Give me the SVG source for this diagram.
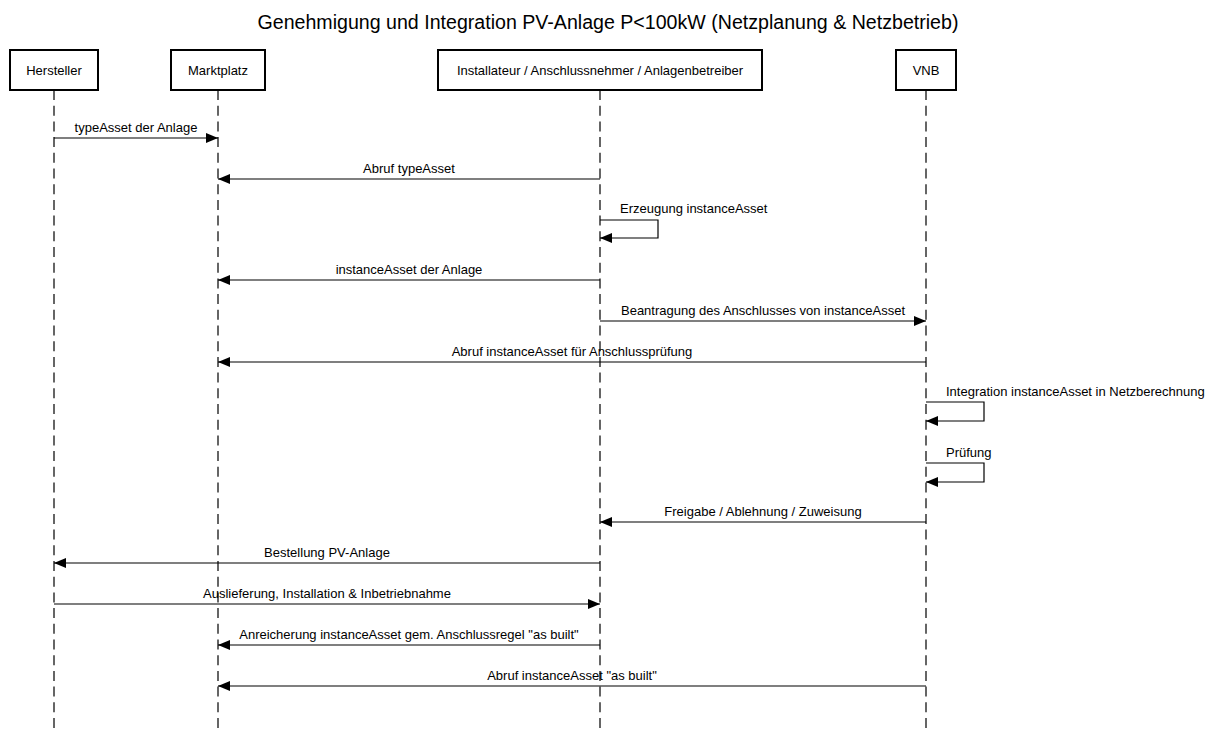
<svg xmlns="http://www.w3.org/2000/svg" width="1213" height="733" viewBox="0 0 1213 733">
  <style>
    text { font-family: "Liberation Sans", Arial, sans-serif; fill: #000; }
    .title { font-size: 19.6px; text-anchor: middle; }
    .actor rect { fill: #fff; stroke: #000; stroke-width: 2; }
    .actor text { font-size: 13px; text-anchor: middle; }
    .lifeline { stroke: #333; stroke-width: 1.5; stroke-dasharray: 10 5.7; fill: none; }
    .msg { stroke: #000; stroke-width: 1.2; fill: none; marker-end: url(#arrow); }
    .lbl { font-size: 13px; text-anchor: middle; }
    .lbl-self { font-size: 13px; text-anchor: start; }
  </style>
  <defs>
    <marker id="arrow" markerWidth="12" markerHeight="10" refX="12" refY="5" orient="auto" markerUnits="userSpaceOnUse">
      <path d="M0,0 L12,5 L0,10 Z" fill="#000"/>
    </marker>
  </defs>

  <rect width="1213" height="733" fill="#fff"/>

  <text class="title" x="608" y="29">Genehmigung und Integration PV-Anlage P&lt;100kW (Netzplanung &amp; Netzbetrieb)</text>

  <!-- lifelines -->
  <g id="lifelines">
    <line class="lifeline" x1="54" y1="90" x2="54" y2="733"/>
    <line class="lifeline" x1="218" y1="90" x2="218" y2="733"/>
    <line class="lifeline" x1="600" y1="90" x2="600" y2="733"/>
    <line class="lifeline" x1="926" y1="90" x2="926" y2="733"/>
  </g>

  <!-- participants -->
  <g id="hersteller" class="actor">
    <rect x="10" y="50" width="88" height="40"/>
    <text x="54" y="75">Hersteller</text>
  </g>
  <g id="marktplatz" class="actor">
    <rect x="171" y="50" width="94" height="40"/>
    <text x="218" y="75">Marktplatz</text>
  </g>
  <g id="installateur" class="actor">
    <rect x="438" y="50" width="324" height="40"/>
    <text x="600" y="75">Installateur / Anschlussnehmer / Anlagenbetreiber</text>
  </g>
  <g id="vnb" class="actor">
    <rect x="896" y="50" width="60" height="40"/>
    <text x="926" y="75">VNB</text>
  </g>

  <!-- messages -->
  <g id="connectors">
    <line class="msg" x1="54" y1="138" x2="218" y2="138"/>
    <text class="lbl" x="136" y="132">typeAsset der Anlage</text>

    <line class="msg" x1="600" y1="179" x2="218" y2="179"/>
    <text class="lbl" x="409" y="173">Abruf typeAsset</text>

    <polyline class="msg" points="600,220 658,220 658,238 600,238"/>
    <text class="lbl-self" x="620" y="213">Erzeugung instanceAsset</text>

    <line class="msg" x1="600" y1="280" x2="218" y2="280"/>
    <text class="lbl" x="409" y="274">instanceAsset der Anlage</text>

    <line class="msg" x1="600" y1="321" x2="926" y2="321"/>
    <text class="lbl" x="763" y="315">Beantragung des Anschlusses von instanceAsset</text>

    <line class="msg" x1="926" y1="362" x2="218" y2="362"/>
    <text class="lbl" x="572" y="356">Abruf instanceAsset für Anschlussprüfung</text>

    <polyline class="msg" points="926,402 984,402 984,421 926,421"/>
    <text class="lbl-self" x="946" y="396">Integration instanceAsset in Netzberechnung</text>

    <polyline class="msg" points="926,463 984,463 984,482 926,482"/>
    <text class="lbl-self" x="946" y="457">Prüfung</text>

    <line class="msg" x1="926" y1="522" x2="600" y2="522"/>
    <text class="lbl" x="763" y="516">Freigabe / Ablehnung / Zuweisung</text>

    <line class="msg" x1="600" y1="563" x2="54" y2="563"/>
    <text class="lbl" x="327" y="557">Bestellung PV-Anlage</text>

    <line class="msg" x1="54" y1="604" x2="600" y2="604"/>
    <text class="lbl" x="327" y="598">Auslieferung, Installation &amp; Inbetriebnahme</text>

    <line class="msg" x1="600" y1="645" x2="218" y2="645"/>
    <text class="lbl" x="409" y="639">Anreicherung instanceAsset gem. Anschlussregel "as built"</text>

    <line class="msg" x1="926" y1="686" x2="218" y2="686"/>
    <text class="lbl" x="572" y="680">Abruf instanceAsset "as built"</text>
  </g>
</svg>
